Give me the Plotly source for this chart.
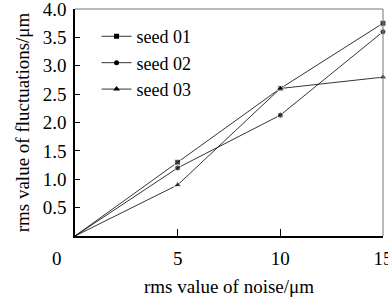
import plotly.graph_objects as go

noise = [0, 5, 10, 15]
seed01 = [0, 1.3, 2.6, 3.75]
seed02 = [0, 1.2, 2.13, 3.6]
seed03 = [0, 0.9, 2.6, 2.8]
names = ["seed 01", "seed 02", "seed 03"]
symbols = ["square", "circle", "triangle-up"]

fig = go.Figure()
for name, ys, sym in zip(names, [seed01, seed02, seed03], symbols):
    s = 7 if sym == "triangle-up" else 6
    fig.add_trace(go.Scatter(
        x=noise, y=ys, name=name, mode="lines+markers", showlegend=False,
        line=dict(color="black", width=0.8),
        marker=dict(symbol=sym, size=[0] + [s] * (len(ys) - 1), color="black"),
        cliponaxis=False,
    ))
    fig.add_trace(go.Scatter(
        x=[None], y=[None], name=name, mode="lines+markers",
        line=dict(color="black", width=0.8),
        marker=dict(symbol=sym, size=s - 1, color="black"), showlegend=True,
    ))

FAM = "Liberation Serif"
font = dict(family=FAM, size=19, color="black")
lfont = dict(family=FAM, size=18, color="black")
fig.update_layout(
    width=388, height=300,
    margin=dict(l=75, r=5, t=9, b=64),
    paper_bgcolor="white", plot_bgcolor="white",
    font=font,
    showlegend=True,
    legend=dict(x=0.07, y=0.96, xanchor="left", yanchor="top", bgcolor="rgba(0,0,0,0)",
                font=lfont, itemwidth=30, tracegroupgap=0),
    xaxis=dict(range=[0, 15.001], tickvals=[5, 10, 15], ticks="inside", ticklen=7,
               tickcolor="black", showgrid=False, zeroline=False, automargin=False,
               showline=True, linecolor="black", linewidth=1.5, tickfont=font,
               title=dict(text="rms value of noise/μm", font=font, standoff=12),
               ticklabelstandoff=4, ticklabeloverflow="allow"),
    yaxis=dict(range=[0, 4.001], tickvals=[0.5, 1.0, 1.5, 2.0, 2.5, 3.0, 3.5, 4.0],
               tickformat=".1f", ticks="inside", ticklen=5, tickcolor="black",
               showgrid=False, zeroline=False, automargin=False, tickfont=font,
               showline=True, linecolor="black", linewidth=1.5,
               title=dict(text="rms value of fluctuations/μm", font=font, standoff=8),
               ticklabelstandoff=3, ticklabeloverflow="allow"),
)
fig.add_shape(type="line", xref="paper", yref="paper", x0=0, x1=1, y0=1, y1=1,
              line=dict(color="#777", width=1))
fig.add_shape(type="line", xref="paper", yref="paper", x0=1, x1=1, y0=0, y1=1,
              line=dict(color="#777", width=1))
fig.add_annotation(x=0, y=0, xref="x", yref="paper", text="0", showarrow=False,
                   xanchor="center", yanchor="middle",
                   xshift=-18, yshift=-22, font=font)
fig.write_html("out.html", post_script="document.body.style.margin='0';",
               config={"displayModeBar": False})
